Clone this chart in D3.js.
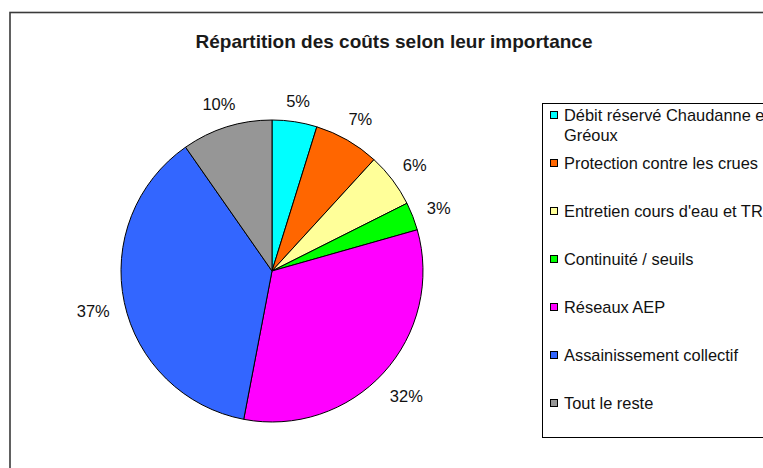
<!DOCTYPE html>
<html>
<head>
<meta charset="utf-8">
<script src="https://cdn.jsdelivr.net/npm/d3@7"></script>
<style>
  body { margin: 0; background: #fff; }
  svg { display: block; font-family: Arial, "Liberation Sans", sans-serif; }
</style>
</head>
<body>
<div id="chart"></div>
<script>
const categories = [
  "Débit réservé Chaudanne et Gréoux",
  "Protection contre les crues",
  "Entretien cours d'eau et TR",
  "Continuité / seuils",
  "Réseaux AEP",
  "Assainissement collectif",
  "Tout le reste"
];
const shares = [4.8, 7.0, 5.8, 3.0, 32.4, 37.3, 9.7];
const colors = ["#00ffff", "#ff6600", "#ffff99", "#00ff00", "#ff00ff", "#3366ff", "#969696"];
const title = "Répartition des coûts selon leur importance";

(function() {
  const width = 763;
  const height = 468;
  const cx = 272, cy = 271, radius = 151;

  const svg = d3.select("#chart")
    .append("svg")
    .attr("width", width)
    .attr("height", height);

  // outer chart frame (runs off the right and bottom edges)
  svg.append("rect")
    .attr("x", 10).attr("y", 12.5)
    .attr("width", width + 20).attr("height", height + 20)
    .attr("fill", "none")
    .attr("stroke", "#3a3a3a")
    .attr("stroke-width", 1.6);

  svg.append("text")
    .attr("x", 394).attr("y", 48)
    .attr("text-anchor", "middle")
    .attr("font-size", "19px")
    .attr("font-weight", "bold")
    .attr("fill", "#1a1a1a")
    .text(title);

  const total = d3.sum(shares);
  const data = categories.map((c, i) => ({ name: c, value: shares[i], color: colors[i] }));

  const pie = d3.pie().value(d => d.value).sort(null);
  const arc = d3.arc().innerRadius(0).outerRadius(radius);
  const pct = d3.format(".0%");

  const g = svg.append("g")
    .attr("transform", `translate(${cx},${cy})`);

  const arcs = pie(data);

  g.selectAll("path")
    .data(arcs)
    .join("path")
    .attr("d", arc)
    .attr("fill", d => d.data.color)
    .attr("stroke", "#000")
    .attr("stroke-width", 1);

  // percentage labels outside the slices
  const labels = g.selectAll("text.lbl")
    .data(arcs)
    .join("text")
    .attr("class", "lbl")
    .attr("font-size", "16.5px")
    .attr("fill", "#111")
    .attr("text-anchor", "middle")
    .attr("dominant-baseline", "central")
    .text(d => pct(d.data.value / total));

  labels.each(function(d) {
    const bb = this.getBBox();
    const a = (d.startAngle + d.endAngle) / 2;
    const s = Math.sin(a), c = Math.cos(a);
    const r = radius + 14 + (bb.width / 2) * Math.abs(s) + (bb.height / 2) * Math.abs(c) * 0.8;
    d3.select(this).attr("x", r * s).attr("y", -r * c + 2);
  });

  // Legend
  svg.append("rect")
    .attr("x", 542.5).attr("y", 103.5)
    .attr("width", 260).attr("height", 334)
    .attr("fill", "#fff")
    .attr("stroke", "#000")
    .attr("stroke-width", 1);

  const ly = d3.scalePoint()
    .domain(categories)
    .range([115, 403]);

  const legend = svg.append("g");

  data.forEach((d, i) => {
    const two = d.name.length > 30;
    const row = legend.append("g")
      .attr("transform", `translate(550, ${ly(d.name)})`);
    row.append("rect")
      .attr("x", 0.5).attr("y", -3.5)
      .attr("width", 7).attr("height", 7)
      .attr("fill", d.color)
      .attr("stroke", "#000")
      .attr("stroke-width", 1);
    const t = row.append("text")
      .attr("x", 14)
      .attr("font-size", "16.4px")
      .attr("fill", "#111")
      .attr("dominant-baseline", "central");
    if (two) {
      t.append("tspan").attr("x", 14).attr("y", 0).text("Débit réservé Chaudanne et");
      t.append("tspan").attr("x", 14).attr("y", 20).text("Gréoux");
    } else {
      t.attr("y", 0).text(d.name);
    }
  });
})();
</script>
</body>
</html>
